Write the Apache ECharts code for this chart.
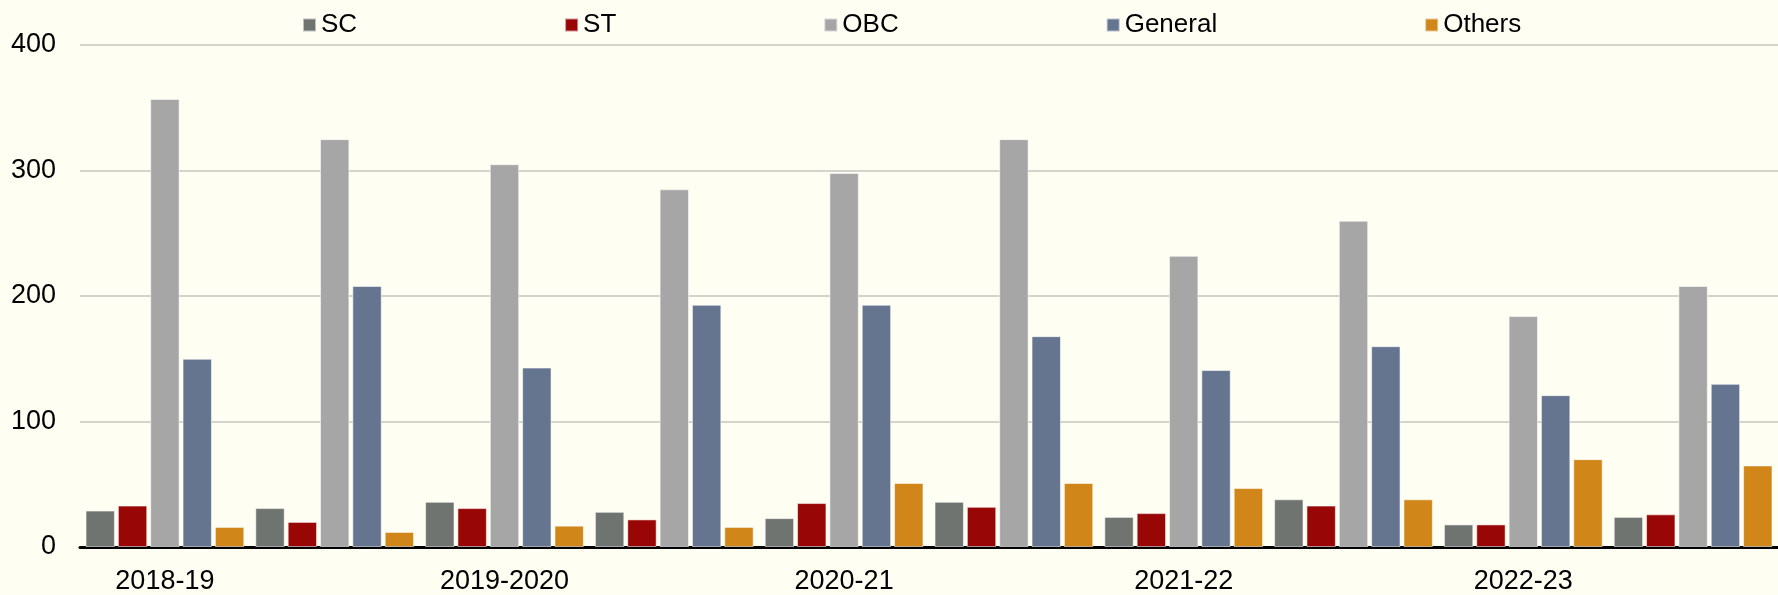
<!DOCTYPE html>
<html>
<head>
<meta charset="utf-8">
<script src="https://cdn.jsdelivr.net/npm/echarts@6.0.0/dist/echarts.min.js"></script>
<style>
    html, body { margin: 0; padding: 0; background: #fffef2; }
    #echarts-bar { width: 1778px; height: 595px; }
</style>
</head>
<body>
<div id="echarts-bar"></div>
<script>
// two groups per year, only the first of each pair is labelled
var categories = ['2018-19', '2018-19', '2019-2020', '2019-2020', '2020-21', '2020-21',
                  '2021-22', '2021-22', '2022-23', '2022-23'];
var yTicks = [0, 100, 200, 300, 400];

var sc      = [29, 31, 36, 28, 23, 36, 24, 38, 18, 24];
var st      = [33, 20, 31, 22, 35, 32, 27, 33, 18, 26];
var obc     = [357, 325, 305, 285, 298, 325, 232, 260, 184, 208];
var general = [150, 208, 143, 193, 193, 168, 141, 160, 121, 130];
var others  = [16, 12, 17, 16, 51, 51, 47, 38, 70, 65];

var myChart = echarts.init(document.getElementById('echarts-bar'));

function barSeries(name, color, data) {
    return {
        type: 'bar',
        name: name,
        barGap: '10%',
        barCategoryGap: '6.5%',
        itemStyle: {
            color: color,
            borderColor: 'rgba(255,255,255,0.55)',
            borderWidth: 1
        },
        data: data
    };
}

var option = {
    backgroundColor: '#fffef2',
    textStyle: {
        fontFamily: 'Arial, "Liberation Sans", sans-serif'
    },
    grid: {
        left: 80,
        top: 45,
        width: 1717,
        height: 507,
        containLabel: false
    },
    legend: {
        show: true,
        left: 302,
        top: 12,
        padding: 0,
        itemWidth: 13,
        itemHeight: 13,
        itemGap: 207,
        icon: 'rect',
        textStyle: {
            color: '#000',
            fontSize: 26
        },
        data: ['SC', 'ST', 'OBC', 'General', 'Others']
    },
    xAxis: {
        type: 'category',
        data: categories,
        boundaryGap: true,
        axisLabel: {
            interval: 1,
            color: '#000',
            fontSize: 27,
            margin: 21
        },
        axisTick: {
            show: false
        },
        axisLine: {
            show: true,
            lineStyle: {
                color: '#000',
                width: 3
            }
        }
    },
    yAxis: {
        type: 'value',
        min: yTicks[0],
        max: yTicks[yTicks.length - 1],
        interval: 100,
        axisLine: {
            show: false
        },
        axisTick: {
            show: false
        },
        splitLine: {
            lineStyle: {
                color: '#c6c6c0',
                width: 1.5
            }
        },
        axisLabel: {
            color: '#000',
            fontSize: 27,
            margin: 24
        }
    },
    series: [
        barSeries('SC', '#6f7470', sc),
        barSeries('ST', '#990606', st),
        barSeries('OBC', '#a6a6a6', obc),
        barSeries('General', '#66758f', general),
        barSeries('Others', '#d08619', others)
    ]
};

myChart.setOption(option);
</script>
</body>
</html>
